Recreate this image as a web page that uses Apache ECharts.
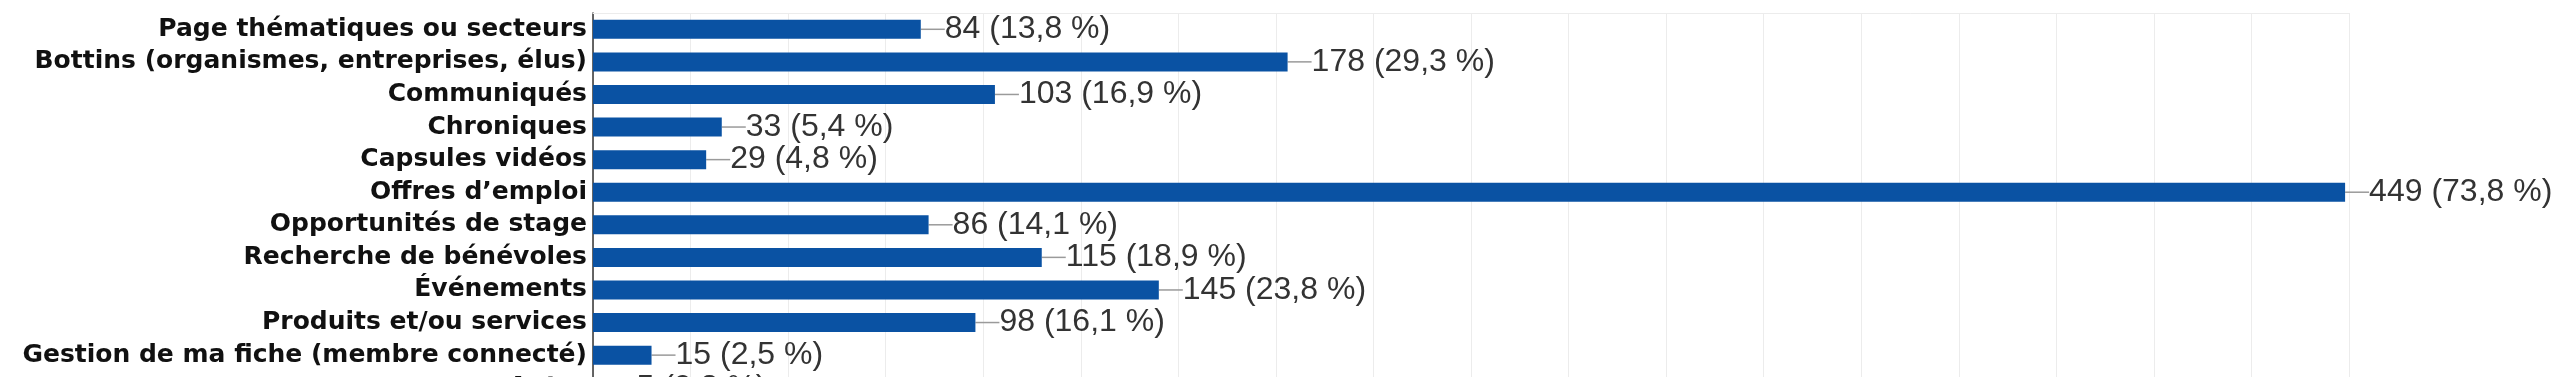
<!DOCTYPE html>
<html>
<head>
<meta charset="utf-8">
<script src="https://cdn.jsdelivr.net/npm/echarts@6/dist/echarts.min.js"></script>
<style>
html,body{margin:0;padding:0;background:#fff;}
#chart{width:2560px;height:377px;}
</style>
</head>
<body>
<div id="chart"></div>
<script>
const categories = [
  "Page thématiques ou secteurs",
  "Bottins (organismes, entreprises, élus)",
  "Communiqués",
  "Chroniques",
  "Capsules vidéos",
  "Offres d’emploi",
  "Opportunités de stage",
  "Recherche de bénévoles",
  "Événements",
  "Produits et/ou services",
  "Gestion de ma fiche (membre connecté)",
  "Autre"
];
const counts = [84, 178, 103, 33, 29, 449, 86, 115, 145, 98, 15, 5];
const percents = [13.8, 29.3, 16.9, 5.4, 4.8, 73.8, 14.1, 18.9, 23.8, 16.1, 2.5, 0.8];
const xTicks = { min: 0, max: 450, interval: 25 };

const chart = echarts.init(document.getElementById('chart'), null, {renderer: 'canvas'});
chart.setOption({
  animation: false,
  backgroundColor: '#ffffff',
  grid: { left: 593, top: 13, width: 1756, height: 391, containLabel: false, outerBoundsMode: 'none' },
  xAxis: {
    type: 'value', position: 'top',
    min: xTicks.min, max: xTicks.max, interval: xTicks.interval,
    axisLabel: { show: false }, axisTick: { show: false },
    axisLine: { show: true, lineStyle: { color: '#ececec', width: 1 } },
    splitLine: { show: true, lineStyle: { color: '#ececec', width: 1 } }
  },
  yAxis: {
    type: 'category', inverse: true, data: categories,
    axisTick: { show: false },
    axisLine: { show: true, lineStyle: { color: '#333333', width: 1.5 } },
    axisLabel: {
      interval: 0, margin: 6, color: '#111111', fontFamily: 'DejaVu Sans', fontWeight: 'bold', fontSize: 25
    }
  },
  series: [{
    type: 'bar',
    data: counts,
    barWidth: 19,
    itemStyle: { color: '#0a52a3' },
    label: {
      show: true, position: 'right', distance: 2,
      color: '#333333', fontFamily: 'Liberation Sans', fontSize: 32,
      formatter: p => counts[p.dataIndex] + ' (' + String(percents[p.dataIndex].toFixed(1)).replace('.', ',') + ' %)'
    },
    labelLayout: { dx: 22, hideOverlap: false },
    labelLine: { show: true, lineStyle: { color: '#9a9a9a', width: 1.5 } }
  }]
});
</script>
</body>
</html>
